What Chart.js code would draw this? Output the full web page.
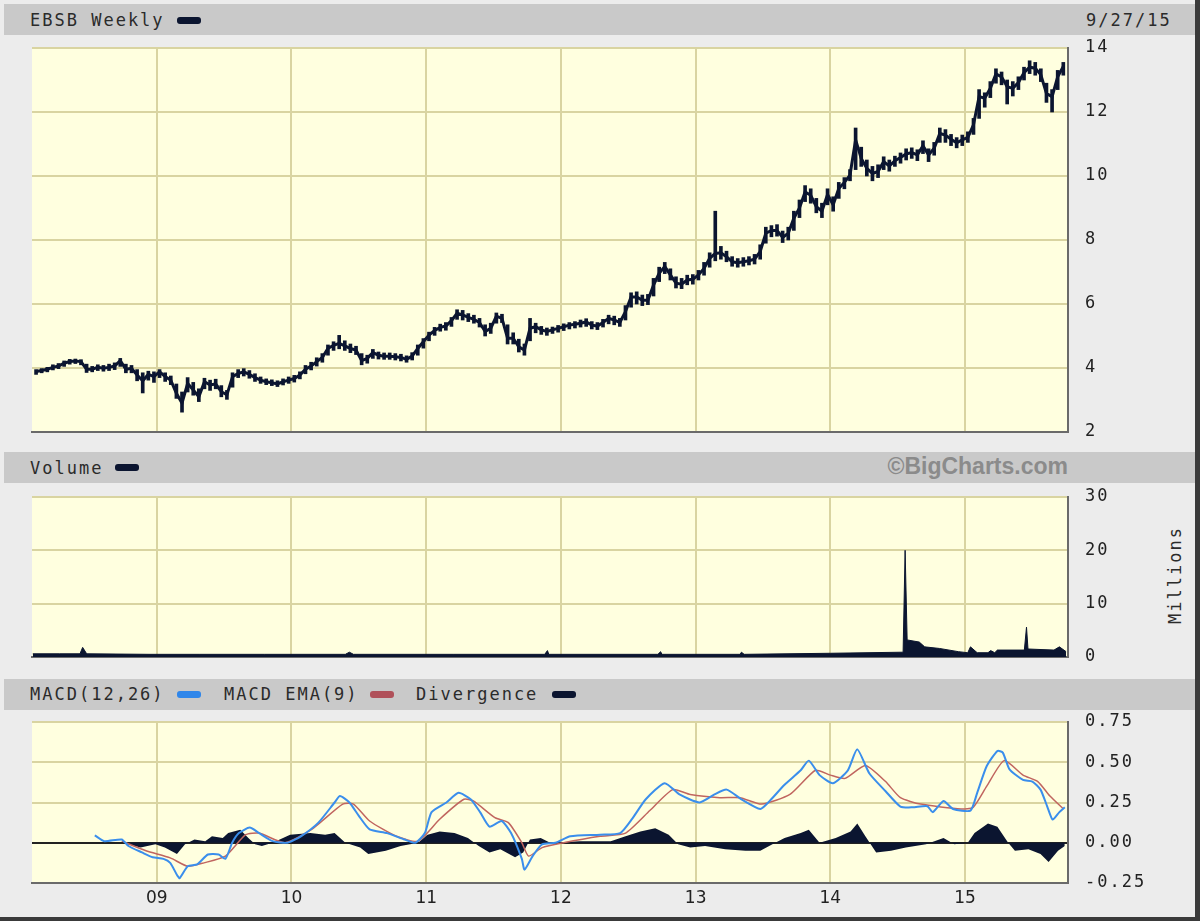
<!DOCTYPE html>
<html><head><meta charset="utf-8">
<script src="https://cdn.jsdelivr.net/npm/chart.js@4.4.1/dist/chart.umd.min.js"></script>
<style>
html,body{margin:0;padding:0;}
body{width:1200px;height:921px;background:#ECECEC;position:relative;overflow:hidden;font-family:"DejaVu Sans Mono",monospace;}
.bar{position:absolute;left:4px;width:1191px;background:#C9C9C9;}
.hdr{position:absolute;font-size:17px;letter-spacing:2px;color:#2B2B2B;white-space:nowrap;line-height:20px;}
.sw{position:absolute;width:24px;height:7px;border-radius:3px;}
canvas{position:absolute;left:0;}
#rb{position:absolute;left:1195px;top:0;width:5px;height:921px;background:#3A3A3A;}
#bb{position:absolute;left:0;top:917px;width:1200px;height:4px;background:#3A3A3A;}
#bc{position:absolute;right:132px;top:453px;font-family:"Liberation Sans",Arial,sans-serif;font-weight:bold;font-size:23px;line-height:26px;color:#8B8B8B;}
#mil{position:absolute;left:1125px;top:565px;width:100px;text-align:center;transform:rotate(-90deg);}
</style></head><body>
<div class="bar" style="top:4px;height:31px"></div>
<div class="bar" style="top:452px;height:31px"></div>
<div class="bar" style="top:679px;height:31px"></div>
<div class="hdr" style="left:30px;top:10px">EBSB Weekly</div>
<div class="sw" style="left:177px;top:17px;background:#0B1530"></div>
<div class="hdr" style="left:1086px;top:10px">9/27/15</div>
<div class="hdr" style="left:30px;top:458px">Volume</div>
<div class="sw" style="left:115px;top:464px;background:#0B1530"></div>
<div id="bc">©BigCharts.com</div>
<div class="hdr" style="left:30px;top:684px">MACD(12,26)</div>
<div class="sw" style="left:177px;top:691px;background:#2F86EA"></div>
<div class="hdr" style="left:224px;top:684px">MACD EMA(9)</div>
<div class="sw" style="left:370px;top:691px;background:#B0515A"></div>
<div class="hdr" style="left:416px;top:684px">Divergence</div>
<div class="sw" style="left:552px;top:691px;background:#0B1530"></div>
<div class="hdr" id="mil">Millions</div>
<canvas id="cP" width="1200" height="450" style="top:0"></canvas>
<canvas id="cV" width="1200" height="230" style="top:450px"></canvas>
<canvas id="cM" width="1200" height="241" style="top:680px"></canvas>
<div id="rb"></div><div id="bb"></div>
<script>
// ---------------- DATA ----------------
const yearTicks = [2009, 2010, 2011, 2012, 2013, 2014, 2015];
const dateMin = 2008.074, dateMax = 2015.764;
const priceStart = 2008 + 1 / 12;   // first bar period begins Feb 2008, half-month periods

const priceClose = [3.89,3.92,3.96,4.02,4.06,4.15,4.20,4.22,4.20,3.96,3.96,4.02,3.99,4.02,4.06,4.23,3.96,3.99,3.78,3.60,
 3.80,3.73,3.88,3.73,3.62,3.21,2.90,3.52,3.31,3.10,3.57,3.47,3.50,3.26,3.16,3.73,3.83,3.88,3.80,3.70,
 3.62,3.57,3.54,3.50,3.57,3.62,3.67,3.78,3.96,4.06,4.20,4.33,4.61,4.71,4.77,4.69,4.61,4.56,4.23,4.30,
 4.48,4.40,4.37,4.37,4.35,4.33,4.27,4.37,4.61,4.82,5.03,5.17,5.27,5.31,5.48,5.71,5.66,5.58,5.52,5.42,
 5.14,5.24,5.62,5.55,4.93,4.93,4.66,4.56,5.24,5.29,5.19,5.14,5.19,5.24,5.29,5.34,5.37,5.40,5.44,5.34,
 5.31,5.42,5.55,5.50,5.42,5.76,6.22,6.22,6.12,6.12,6.59,6.96,7.17,6.91,6.65,6.62,6.75,6.77,6.91,7.11,
 7.43,7.58,7.60,7.48,7.32,7.29,7.32,7.35,7.40,7.64,8.21,8.30,8.30,8.08,8.21,8.68,9.00,9.50,9.40,9.04,
 8.90,9.42,9.10,9.61,9.80,10.03,11.13,10.55,10.24,10.08,10.14,10.45,10.31,10.48,10.58,10.69,10.73,10.66,10.94,10.66,
 10.87,11.33,11.28,11.15,11.04,11.13,11.21,11.60,12.48,12.43,12.74,13.19,13.10,12.79,12.74,12.92,13.23,13.40,13.37,13.16,
 12.58,12.48,13.10,13.42];
const priceLow = [3.80,3.85,3.88,3.94,3.98,4.05,4.12,4.14,4.10,3.86,3.88,3.92,3.90,3.92,3.95,4.05,3.85,3.85,3.60,3.22,
 3.62,3.55,3.70,3.58,3.48,3.05,2.62,3.25,3.15,2.95,3.35,3.30,3.35,3.10,3.02,3.40,3.70,3.75,3.68,3.58,
 3.52,3.48,3.45,3.42,3.47,3.52,3.56,3.66,3.82,3.94,4.06,4.18,4.40,4.55,4.60,4.55,4.48,4.42,4.10,4.15,
 4.30,4.28,4.27,4.27,4.25,4.22,4.18,4.25,4.40,4.62,4.85,5.02,5.15,5.18,5.30,5.52,5.50,5.45,5.40,5.28,
 5.00,5.08,5.40,5.42,4.75,4.75,4.50,4.40,4.85,5.10,5.05,5.02,5.08,5.12,5.17,5.22,5.25,5.28,5.30,5.22,
 5.20,5.28,5.38,5.35,5.30,5.50,5.90,6.00,5.95,5.98,6.25,6.70,6.95,6.75,6.50,6.48,6.60,6.62,6.75,6.90,
 7.15,7.35,7.40,7.32,7.18,7.15,7.18,7.22,7.25,7.40,7.90,8.10,8.12,7.92,8.00,8.30,8.70,9.20,9.15,8.85,
 8.70,9.10,8.90,9.30,9.60,9.85,10.20,10.30,10.00,9.85,9.95,10.20,10.15,10.30,10.40,10.50,10.55,10.48,10.70,10.45,
 10.65,11.05,11.05,10.95,10.88,10.95,11.05,11.30,11.80,12.15,12.45,12.90,12.85,12.25,12.50,12.70,13.00,13.20,13.15,12.95,
 12.30,12.00,12.70,13.15];
const priceHigh = [3.95,3.98,4.02,4.10,4.14,4.22,4.27,4.28,4.26,4.12,4.05,4.10,4.08,4.12,4.16,4.30,4.12,4.08,3.95,3.85,
 3.90,3.88,3.95,3.85,3.75,3.50,3.25,3.70,3.55,3.35,3.68,3.62,3.65,3.45,3.30,3.85,3.95,3.98,3.92,3.82,
 3.72,3.66,3.63,3.60,3.66,3.72,3.77,3.88,4.08,4.18,4.32,4.45,4.72,4.82,5.02,4.85,4.75,4.68,4.45,4.40,
 4.58,4.50,4.47,4.47,4.45,4.43,4.38,4.48,4.72,4.92,5.12,5.27,5.37,5.42,5.58,5.82,5.80,5.70,5.65,5.55,
 5.35,5.40,5.72,5.68,5.35,5.10,4.90,4.75,5.55,5.40,5.30,5.25,5.28,5.33,5.38,5.42,5.45,5.50,5.54,5.45,
 5.42,5.52,5.65,5.62,5.55,5.95,6.35,6.38,6.28,6.30,6.80,7.15,7.30,7.10,6.85,6.80,6.90,6.92,7.05,7.30,
 7.60,8.90,7.80,7.65,7.48,7.42,7.45,7.48,7.55,7.85,8.40,8.45,8.48,8.28,8.40,8.90,9.25,9.70,9.60,9.30,
 9.15,9.60,9.35,9.80,9.95,10.20,11.50,10.90,10.50,10.30,10.35,10.60,10.50,10.62,10.72,10.85,10.88,10.82,11.10,10.85,
 11.05,11.50,11.45,11.30,11.20,11.28,11.38,11.80,12.70,12.60,12.95,13.35,13.25,13.00,12.95,13.10,13.40,13.60,13.55,13.35,
 12.90,12.70,13.30,13.55];
const priceDates = priceClose.map((_, j) => priceStart + (j + 0.5) / 24);

// weekly volume readings (millions), dates in decimal years
const volDates = [2008.08,2008.28,2008.43,2008.45,2008.48,2008.95,2009.32,2009.80,2010.40,2010.43,2010.46,
 2011.20,2011.88,2011.90,2011.91,2012.72,2012.74,2012.75,2013.33,2013.34,2013.36,2014.00,2014.54,
 2014.555,2014.57,2014.66,2014.70,2014.81,2014.95,2015.02,2015.04,2015.09,2015.17,2015.19,2015.22,
 2015.24,2015.44,2015.456,2015.467,2015.66,2015.70,2015.75];
const volValues = [0.6,0.6,0.6,1.8,0.6,0.5,0.5,0.5,0.5,0.9,0.5,
 0.5,0.5,1.2,0.5,0.5,1.0,0.5,0.5,0.9,0.5,0.7,0.9,
 20,3.2,2.8,1.9,1.6,1.0,0.8,1.9,0.8,0.8,1.2,0.8,
 1.3,1.3,5.6,1.5,1.3,1.9,1.0];

// MACD(12,26)
const macdDates = [2008.54,2008.61,2008.74,2008.79,2008.89,2008.97,2009.05,2009.10,2009.15,2009.17,2009.23,2009.30,
 2009.38,2009.46,2009.51,2009.56,2009.61,2009.69,2009.76,2009.86,2009.97,2010.07,2010.20,2010.32,2010.36,2010.43,
 2010.50,2010.58,2010.71,2010.84,2010.92,2010.99,2011.04,2011.15,2011.24,2011.33,2011.40,2011.47,2011.56,2011.63,
 2011.71,2011.73,2011.79,2011.86,2011.96,2012.07,2012.29,2012.44,2012.53,2012.63,2012.77,2012.88,2013.03,2013.14,
 2013.23,2013.34,2013.48,2013.55,2013.66,2013.78,2013.84,2013.92,2014.02,2014.13,2014.20,2014.29,2014.41,2014.52,
 2014.61,2014.72,2014.76,2014.84,2014.91,2015.04,2015.09,2015.16,2015.24,2015.28,2015.33,2015.43,2015.50,2015.56,
 2015.61,2015.65,2015.70,2015.74];
const macdValues = [0.046,0.01,0.02,-0.02,-0.06,-0.09,-0.10,-0.125,-0.20,-0.22,-0.146,-0.135,
 -0.073,-0.073,-0.10,0.0,0.06,0.094,0.06,0.01,0.0,0.04,0.125,0.25,0.29,0.25,
 0.167,0.083,0.06,0.02,0.0,0.06,0.19,0.25,0.31,0.27,0.19,0.10,0.135,0.06,
 -0.10,-0.167,-0.083,-0.01,0.0,0.04,0.05,0.06,0.15,0.27,0.37,0.30,0.25,0.30,
 0.33,0.27,0.21,0.26,0.36,0.45,0.51,0.42,0.37,0.45,0.58,0.43,0.32,0.225,
 0.22,0.227,0.19,0.26,0.21,0.20,0.31,0.475,0.57,0.56,0.456,0.39,0.38,0.33,
 0.225,0.144,0.19,0.22];
// MACD EMA(9)
const signalDates = [2008.74,2008.92,2009.10,2009.23,2009.35,2009.51,2009.66,2009.76,2009.95,2010.15,2010.38,2010.46,
 2010.58,2010.78,2010.94,2011.10,2011.28,2011.35,2011.51,2011.61,2011.71,2011.76,2011.86,2012.02,2012.29,2012.48,
 2012.66,2012.83,2012.96,2013.18,2013.33,2013.49,2013.70,2013.89,2014.00,2014.11,2014.26,2014.41,2014.52,2014.67,
 2014.97,2015.06,2015.16,2015.29,2015.43,2015.54,2015.63,2015.73];
const signalValues = [0.01,-0.05,-0.094,-0.146,-0.125,-0.083,0.05,0.06,0.0,0.083,0.24,0.24,
 0.135,0.04,0.01,0.146,0.27,0.26,0.156,0.125,0.0,-0.083,-0.03,0.0,0.04,0.06,
 0.20,0.33,0.30,0.28,0.28,0.24,0.30,0.45,0.42,0.40,0.48,0.38,0.28,0.24,
 0.21,0.22,0.35,0.51,0.42,0.38,0.29,0.21];
// Divergence
const divDates = [2008.74,2008.88,2008.99,2009.06,2009.15,2009.21,2009.28,2009.36,2009.41,2009.49,2009.53,2009.62,
 2009.68,2009.73,2009.78,2009.86,2009.99,2010.14,2010.25,2010.32,2010.40,2010.51,2010.57,2010.70,2010.81,2010.94,
 2011.01,2011.10,2011.21,2011.31,2011.39,2011.47,2011.55,2011.66,2011.72,2011.77,2011.85,2011.92,2012.14,2012.37,
 2012.48,2012.59,2012.70,2012.80,2012.87,2012.96,2013.07,2013.22,2013.37,2013.48,2013.57,2013.66,2013.78,2013.84,
 2013.92,2014.04,2014.15,2014.20,2014.26,2014.34,2014.45,2014.56,2014.71,2014.84,2014.92,2015.02,2015.07,2015.17,
 2015.24,2015.32,2015.37,2015.47,2015.56,2015.62,2015.69,2015.74];
const divValues = [0,-0.03,-0.01,-0.03,-0.07,-0.01,0.02,0.01,0.04,0.03,0.06,0.08,
 0.03,-0.01,-0.02,0.0,0.05,0.06,0.05,0.06,0.0,-0.03,-0.07,-0.05,-0.02,0.0,
 0.05,0.07,0.06,0.03,-0.02,-0.06,-0.04,-0.09,-0.06,0.02,0.03,0.0,0.01,0.01,
 0.04,0.07,0.09,0.05,-0.01,-0.03,-0.02,-0.04,-0.05,-0.05,-0.01,0.03,0.06,0.08,
 0.0,0.03,0.07,0.12,0.04,-0.06,-0.05,-0.03,-0.01,0.03,-0.01,0.0,0.06,0.12,
 0.10,0.0,-0.05,-0.04,-0.07,-0.12,-0.05,-0.02];

// ---------------- STYLE ----------------
const NAVY = '#0B1530', GRID = '#D9D4A1', BORDER = '#6A6A6A', PLOT = '#FFFFDF';
const MONO = {family: '"DejaVu Sans Mono", monospace', size: 17};
const pts = (xs, ys) => xs.map((x, i) => ({x, y: ys[i]}));

const bgPlugin = {
  id: 'bg',
  beforeDraw(c) {
    const a = c.chartArea, ctx = c.ctx;
    ctx.save(); ctx.fillStyle = PLOT; ctx.fillRect(a.left, a.top, a.right - a.left, a.bottom - a.top); ctx.restore();
    ctx.letterSpacing = '2px';
  },
  afterDatasetsDraw(c) { c.ctx.letterSpacing = '0px'; }
};

function xScale(showLabels, h) {
  return {
    type: 'linear', min: dateMin, max: dateMax, offset: false,
    afterBuildTicks: s => { s.ticks = yearTicks.map(v => ({value: v})); },
    afterFit: s => { s.height = h; },
    grid: {color: GRID, lineWidth: 2, drawTicks: false, offset: false},
    border: {display: true, color: BORDER, width: 2},
    ticks: {display: showLabels, z: 1, padding: 5, color: '#222', autoSkip: false, maxRotation: 0,
      font: {family: '"DejaVu Sans", sans-serif', size: 17},
      callback: v => String(v).slice(2)}
  };
}
function yScale(min, max, step, fmt, gridColor) {
  return {
    position: 'right', min, max,
    afterFit: s => { s.width = 132; },
    grid: {color: gridColor || GRID, lineWidth: 2, drawTicks: true, tickLength: 17, tickColor: 'rgba(0,0,0,0)'},
    border: {display: true, color: BORDER, width: 2},
    ticks: {stepSize: step, padding: 0, color: '#222', font: MONO, callback: fmt}
  };
}
const common = {
  responsive: false, animation: false, devicePixelRatio: 1,
  plugins: {legend: {display: false}, tooltip: {enabled: false}},
};

// Price
new Chart(document.getElementById('cP'), {
  type: 'bar',
  data: {datasets: [
    {type: 'line', data: pts(priceDates, priceClose), borderColor: NAVY, borderWidth: 3, pointRadius: 0, tension: 0, order: 1},
    {type: 'bar', data: priceDates.map((d, i) => ({x: d, y: [priceLow[i], priceHigh[i]]})), backgroundColor: NAVY, barThickness: 3, order: 2}
  ]},
  options: Object.assign({}, common, {
    layout: {padding: {left: 32, top: 48, right: 0, bottom: 0}},
    scales: {x: xScale(false, 18), y: yScale(2, 14, 2, v => String(v))}
  }),
  plugins: [bgPlugin]
});

// Volume
new Chart(document.getElementById('cV'), {
  type: 'line',
  data: {datasets: [
    {data: pts(volDates, volValues), borderColor: NAVY, backgroundColor: NAVY, borderWidth: 1, pointRadius: 0, tension: 0, fill: 'origin'}
  ]},
  options: Object.assign({}, common, {
    layout: {padding: {left: 32, top: 47, right: 0, bottom: 0}},
    scales: {x: xScale(false, 23), y: yScale(0, 30, 10, v => String(v))}
  }),
  plugins: [bgPlugin]
});

// MACD
new Chart(document.getElementById('cM'), {
  type: 'line',
  data: {datasets: [
    {data: pts(macdDates, macdValues), borderColor: '#3A8EEC', borderWidth: 2, pointRadius: 0, tension: 0.2, order: 1},
    {data: pts(signalDates, signalValues), borderColor: '#C0655F', borderWidth: 1.5, pointRadius: 0, tension: 0.2, order: 2},
    {data: pts(divDates, divValues), borderColor: NAVY, backgroundColor: NAVY, borderWidth: 0, pointRadius: 0, tension: 0, fill: 'origin', order: 3}
  ]},
  options: Object.assign({}, common, {
    layout: {padding: {left: 32, top: 42, right: 0, bottom: 0}},
    scales: {x: xScale(true, 38), y: yScale(-0.25, 0.75, 0.25, v => v.toFixed(2),
      ctx => (ctx.tick && Math.abs(ctx.tick.value) < 1e-9) ? '#222' : GRID)}
  }),
  plugins: [bgPlugin]
});
</script>
</body></html>
